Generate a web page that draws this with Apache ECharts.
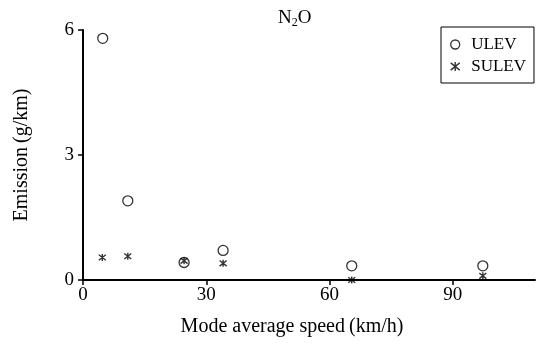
<!DOCTYPE html>
<html>
<head>
<meta charset="utf-8">
<script src="https://cdn.jsdelivr.net/npm/echarts@6/dist/echarts.min.js"></script>
<style>
html, body { margin: 0; padding: 0; background: #fff; }
#chart { width: 540px; height: 343px; }
</style>
</head>
<body>
<div id="chart"></div>
<script>
// mode average speed (km/h)
var speedUlev = [4.8, 10.9, 24.6, 34.1, 65.4, 97.3];
var ulev = [5.8, 1.9, 0.42, 0.71, 0.34, 0.34];
var speedSulev = [4.7, 10.9, 24.6, 34.1, 65.4, 97.3];
var sulev = [0.54, 0.57, 0.46, 0.40, 0.0, 0.10];
var xTicks = [0, 30, 60, 90];
var yTicks = [0, 3, 6];

var FONT = '"Liberation Serif", "DejaVu Serif", serif';
var starPath = 'path://M0,1L10,9M10,1L0,9M5,0L5,10';

function pairs(xs, ys) {
    var out = [];
    for (var i = 0; i < xs.length; i++) {
        out.push([xs[i], ys[i]]);
    }
    return out;
}

var chart = echarts.init(document.getElementById('chart'));
chart.setOption({
    animation: false,
    backgroundColor: '#fff',
    textStyle: { fontFamily: FONT, color: '#000' },
    title: {
        text: 'N{sub|2}O',
        left: 273,
        top: 3,
        textStyle: {
            fontFamily: FONT, fontSize: 19, fontWeight: 'normal', color: '#000',
            rich: { sub: { fontFamily: FONT, fontSize: 12, verticalAlign: 'bottom', padding: [9, 0, 0, 0] } }
        }
    },
    legend: {
        orient: 'vertical',
        left: 441,
        top: 27,
        width: 94,
        padding: [9, 8, 8, 9],
        itemGap: 5,
        itemWidth: 12,
        itemHeight: 9,
        borderColor: '#000',
        borderWidth: 1,
        textStyle: { fontFamily: FONT, fontSize: 17, color: '#000', padding: [0, 0, 0, 5] },
        data: [
            { name: 'ULEV', icon: 'circle', itemStyle: { color: '#fff', borderColor: '#000', borderWidth: 1.3 } },
            { name: 'SULEV', icon: starPath, itemStyle: { color: 'rgba(0,0,0,0)', borderColor: '#000', borderWidth: 1.4 } }
        ]
    },
    grid: { left: 83, right: 5, top: 30, bottom: 63, containLabel: false },
    xAxis: {
        type: 'value',
        min: 0,
        max: 110,
        interval: 30,
        name: 'Mode average speed\u2009(km/h)',
        nameLocation: 'middle',
        nameGap: 37,
        nameTextStyle: { fontFamily: FONT, fontSize: 20, color: '#000', padding: [0, 34, 0, 0] },
        splitLine: { show: false },
        axisLine: { lineStyle: { color: '#000', width: 2 } },
        axisTick: { show: true, inside: false, length: 5, customValues: xTicks, lineStyle: { color: '#000', width: 1.5 } },
        axisLabel: { customValues: xTicks, fontFamily: FONT, fontSize: 19, color: '#000', margin: 6 }
    },
    yAxis: {
        type: 'value',
        min: 0,
        max: 6,
        interval: 3,
        name: 'Emission\u2009(g/km)',
        nameLocation: 'middle',
        nameGap: 51,
        nameRotate: 90,
        nameTextStyle: { fontFamily: FONT, fontSize: 20, color: '#000' },
        splitLine: { show: false },
        axisLine: { show: true, lineStyle: { color: '#000', width: 2 } },
        axisTick: { show: true, inside: false, length: 5, customValues: yTicks, lineStyle: { color: '#000', width: 1.5 } },
        axisLabel: { customValues: yTicks, fontFamily: FONT, fontSize: 19, color: '#000', margin: 9 }
    },
    series: [
        {
            name: 'ULEV',
            type: 'scatter',
            symbol: 'circle',
            symbolSize: 10,
            itemStyle: { color: 'rgba(255,255,255,0)', borderColor: '#000', borderWidth: 1.3 },
            data: pairs(speedUlev, ulev),
            z: 3
        },
        {
            name: 'SULEV',
            type: 'scatter',
            symbol: starPath,
            symbolSize: 7,
            itemStyle: { color: 'rgba(0,0,0,0)', borderColor: '#000', borderWidth: 1.4 },
            data: pairs(speedSulev, sulev),
            z: 4
        }
    ]
});
</script>
</body>
</html>
